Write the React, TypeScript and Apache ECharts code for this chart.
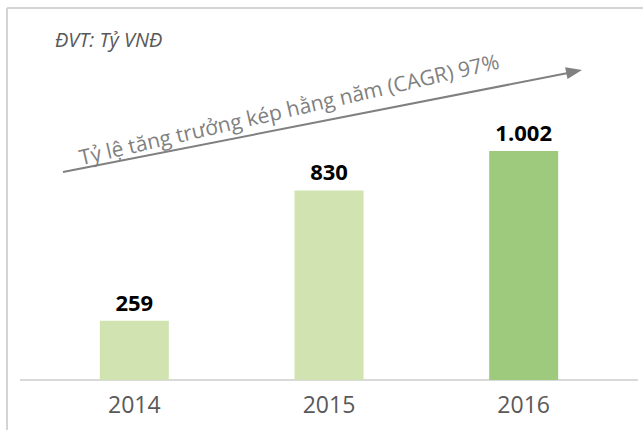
import React, { useEffect, useRef } from "react";
import * as echarts from "echarts";

const categories = ["2014", "2015", "2016"];
const revenue = [259, 830, 1002];
const valueLabels = ["259", "830", "1.002"];
const barColors = ["#d0e3b0", "#d0e3b0", "#9dca7c"];
const unitLabel = "ĐVT: Tỷ VNĐ";
const cagrLabel = "Tỷ lệ tăng trưởng kép hằng năm (CAGR) 97%";

export default function App() {
  const ref = useRef<HTMLDivElement>(null);
  useEffect(() => {
    document.body.style.margin = "0";
    const chart = echarts.init(ref.current!, null, { renderer: "svg" });
    const font = "'Open Sans', 'Noto Sans', sans-serif";
    const angle = (13 * Math.PI) / 180;
    chart.setOption({
      animation: false,
      backgroundColor: "#ffffff",
      grid: { left: 37, right: 22, top: 83, bottom: 50 },
      xAxis: {
        type: "category",
        data: categories,
        axisLine: { show: false },
        axisTick: { show: false },
        axisLabel: { color: "#595959", fontSize: 23, fontFamily: font, margin: 12 },
      },
      yAxis: {
        type: "value",
        min: 0,
        max: 1300,
        show: false,
        splitLine: { show: false },
      },
      series: [
        {
          type: "bar",
          barWidth: 69,
          data: revenue.map((v, i) => ({ value: v, itemStyle: { color: barColors[i] } })),
          label: {
            show: true,
            position: "top",
            distance: 8,
            color: "#000000",
            fontSize: 22,
            fontWeight: "bold",
            fontFamily: font,
            formatter: (p: any) => valueLabels[p.dataIndex],
          },
        },
      ],
      graphic: [
        { type: "line", shape: { x1: 7, y1: 8, x2: 643, y2: 8 }, style: { stroke: "#d4d4d4", lineWidth: 2 } },
        { type: "line", shape: { x1: 7, y1: 8, x2: 7, y2: 430 }, style: { stroke: "#d4d4d4", lineWidth: 2 } },
        { type: "line", shape: { x1: 20, y1: 380, x2: 638, y2: 380 }, style: { stroke: "#d9d9d9", lineWidth: 2 } },
        {
          type: "text",
          left: 55,
          top: 29,
          style: { text: unitLabel, fill: "#595959", font: `italic 20px ${font}` },
        },
        { type: "line", shape: { x1: 63, y1: 172, x2: 568, y2: 73 }, style: { stroke: "#808080", lineWidth: 2 } },
        {
          type: "polygon",
          shape: { points: [[582, 70], [567.5, 79], [565.1, 67.2]] },
          style: { fill: "#808080" },
        },
        {
          type: "text",
          x: 289,
          y: 109,
          rotation: angle,
          style: {
            text: cagrLabel,
            fill: "#808080",
            font: `21px ${font}`,
            align: "center",
            verticalAlign: "middle",
          },
        },
      ],
    });
    return () => chart.dispose();
  }, []);
  return <div ref={ref} style={{ width: 643, height: 430 }} />;
}
